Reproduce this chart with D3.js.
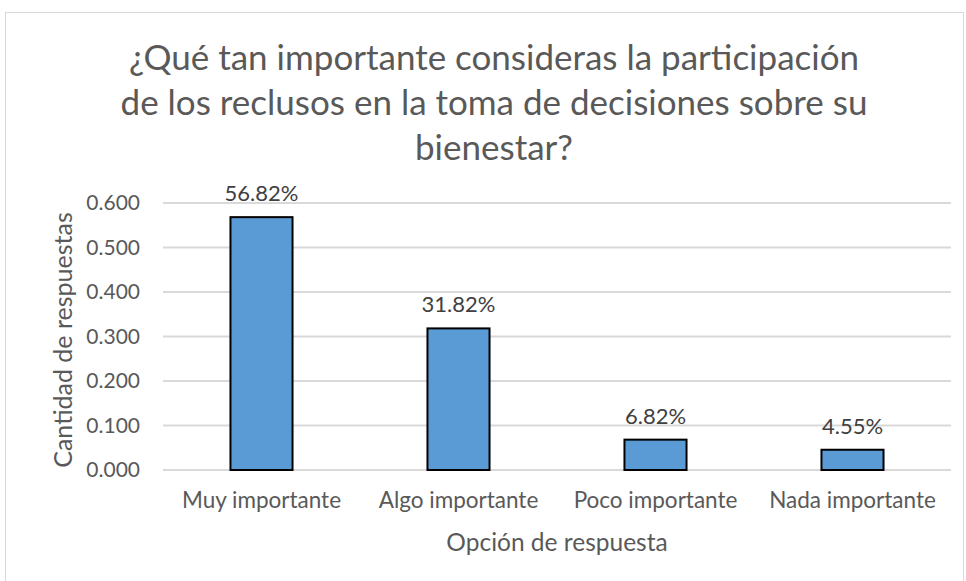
<!DOCTYPE html>
<html><head><meta charset="utf-8">
<script src="https://cdn.jsdelivr.net/npm/d3@7"></script>
<style>body{margin:0;background:#fff;font-family:Lato,sans-serif;}</style>
</head><body><svg id="c" width="966" height="581"></svg>
<script>
const categories = ["Muy importante","Algo importante","Poco importante","Nada importante"];
const values = [0.5682,0.3182,0.0682,0.0455];
const labels = ["56.82%","31.82%","6.82%","4.55%"];
const yTicks = [0,0.1,0.2,0.3,0.4,0.5,0.6];
const titleLines = ["¿Qué tan importante consideras la participación","de los reclusos en la toma de decisiones sobre su","bienestar?"];

const svg = d3.select("#c").style("font-family","Lato, sans-serif");
const txt = "#595959";
svg.append("rect").attr("x",5.5).attr("y",12.5).attr("width",958).attr("height",570).attr("fill","#fff").attr("stroke","#d9d9d9");

const x = d3.scaleBand().domain(categories).range([163,951]).paddingInner(0.685).paddingOuter(0.3425);
const y = d3.scaleLinear().domain([0,0.6]).range([470,203]);

svg.append("g").selectAll("line").data(yTicks).join("line")
  .attr("x1",163).attr("x2",951).attr("y1",d=>y(d)).attr("y2",d=>y(d))
  .attr("stroke","#d9d9d9").attr("stroke-width",2);

svg.append("g").selectAll("text").data(yTicks).join("text")
  .attr("x",140).attr("y",d=>y(d)).attr("dy","0.35em").attr("text-anchor","end")
  .attr("fill",txt).attr("font-size",21).text(d=>d3.format(".3f")(d));

svg.append("g").selectAll("rect").data(values).join("rect")
  .attr("x",(d,i)=>x(categories[i])).attr("width",x.bandwidth())
  .attr("y",d=>y(d)).attr("height",d=>y(0)-y(d))
  .attr("fill","#5b9bd5").attr("stroke","#000").attr("stroke-width",2);

svg.append("g").selectAll("text").data(values).join("text")
  .attr("x",(d,i)=>x(categories[i])+x.bandwidth()/2).attr("y",d=>y(d)-16)
  .attr("text-anchor","middle").attr("fill","#404040").attr("font-size",22).text((d,i)=>labels[i]);

svg.append("g").selectAll("text").data(categories).join("text")
  .attr("x",d=>x(d)+x.bandwidth()/2).attr("y",508)
  .attr("text-anchor","middle").attr("fill",txt).attr("font-size",22.5).text(d=>d);

svg.append("text").attr("x",557).attr("y",551).attr("text-anchor","middle")
  .attr("fill",txt).attr("font-size",24.5).text("Opción de respuesta");

svg.append("text").attr("transform","translate(72,340) rotate(-90)").attr("text-anchor","middle")
  .attr("fill",txt).attr("font-size",25).text("Cantidad de respuestas");

svg.append("g").selectAll("text").data(titleLines).join("text")
  .attr("x",494).attr("y",(d,i)=>70+i*45).attr("text-anchor","middle")
  .attr("fill",txt).attr("font-size",35).text(d=>d);
</script></body></html>
